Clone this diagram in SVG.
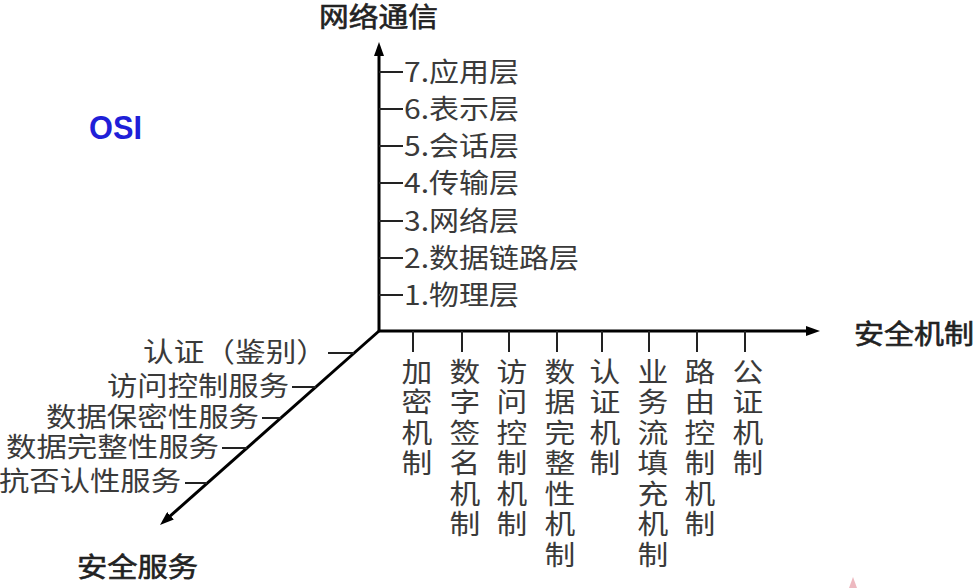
<svg xmlns="http://www.w3.org/2000/svg" width="978" height="588" viewBox="0 0 978 588">
<style>
.t{font-family:"Noto Sans CJK SC","Noto Sans",sans-serif;font-size:27px;fill:#3a3a3a}
.ax{font-family:"Noto Sans CJK SC","Noto Sans",sans-serif;font-size:27px;fill:#222;stroke:#222;stroke-width:0.6}
.v{font-family:"Noto Sans CJK SC","Noto Sans",sans-serif;font-size:27px;fill:#3a3a3a;text-anchor:middle}
.axis{stroke:#000;stroke-width:3;fill:none}
.tick{stroke:#222;stroke-width:2;fill:none}
</style>
<defs>
<marker id="arr" viewBox="0 0 14 10" refX="4" refY="5" markerWidth="14" markerHeight="10" orient="auto" markerUnits="userSpaceOnUse">
<path d="M0,0 L14,5 L0,10 z" fill="#000"/>
</marker>
</defs>
<rect width="978" height="588" fill="#fff"/>

<g id="connectors">
<line class="axis" x1="379" y1="332" x2="379" y2="52" marker-end="url(#arr)"/>
<line class="axis" x1="378" y1="331" x2="810" y2="331" marker-end="url(#arr)"/>
<line class="axis" x1="379" y1="331" x2="167.5" y2="518.4" marker-end="url(#arr)"/>
<g id="ticks-vertical">
<line class="tick" x1="379" y1="72" x2="403" y2="72"/>
<line class="tick" x1="379" y1="109" x2="403" y2="109"/>
<line class="tick" x1="379" y1="146" x2="403" y2="146"/>
<line class="tick" x1="379" y1="183" x2="403" y2="183"/>
<line class="tick" x1="379" y1="221" x2="403" y2="221"/>
<line class="tick" x1="379" y1="258" x2="403" y2="258"/>
<line class="tick" x1="379" y1="295" x2="403" y2="295"/>
</g>
<g id="ticks-horizontal">
<line class="tick" x1="413" y1="331" x2="413" y2="352"/>
<line class="tick" x1="462" y1="331" x2="462" y2="352"/>
<line class="tick" x1="509" y1="331" x2="509" y2="352"/>
<line class="tick" x1="557" y1="331" x2="557" y2="352"/>
<line class="tick" x1="602" y1="331" x2="602" y2="352"/>
<line class="tick" x1="649" y1="331" x2="649" y2="352"/>
<line class="tick" x1="697" y1="331" x2="697" y2="352"/>
<line class="tick" x1="745" y1="331" x2="745" y2="352"/>
</g>
<g id="ticks-diagonal">
<line class="tick" x1="328" y1="353" x2="354" y2="353"/>
<line class="tick" x1="292" y1="387" x2="316" y2="387"/>
<line class="tick" x1="262" y1="418" x2="281" y2="418"/>
<line class="tick" x1="222" y1="448" x2="247" y2="448"/>
<line class="tick" x1="185" y1="483" x2="207" y2="483"/>
</g>
</g>

<g id="axis-titles">
<text class="ax" x="319" y="27" textLength="119" lengthAdjust="spacingAndGlyphs">网络通信</text>
<text class="ax" x="854" y="344" textLength="120" lengthAdjust="spacingAndGlyphs">安全机制</text>
<text class="ax" x="77" y="577" textLength="121" lengthAdjust="spacingAndGlyphs">安全服务</text>
</g>

<g id="osi">
<text x="89" y="139" font-family="Liberation Sans, Arial, sans-serif" font-size="33" font-weight="bold" fill="#1f1fd8" textLength="53" lengthAdjust="spacingAndGlyphs">OSI</text>
</g>

<g id="layers">
<text class="t" x="404" y="82" textLength="115" lengthAdjust="spacingAndGlyphs">7.应用层</text>
<text class="t" x="404" y="119" textLength="115" lengthAdjust="spacingAndGlyphs">6.表示层</text>
<text class="t" x="404" y="156" textLength="115" lengthAdjust="spacingAndGlyphs">5.会话层</text>
<text class="t" x="404" y="193" textLength="115" lengthAdjust="spacingAndGlyphs">4.传输层</text>
<text class="t" x="404" y="231" textLength="115" lengthAdjust="spacingAndGlyphs">3.网络层</text>
<text class="t" x="404" y="268" textLength="175" lengthAdjust="spacingAndGlyphs">2.数据链路层</text>
<text class="t" x="404" y="305" textLength="115" lengthAdjust="spacingAndGlyphs">1.物理层</text>
</g>

<g id="services">
<text class="t" x="143" y="362" textLength="184" lengthAdjust="spacingAndGlyphs">认证（鉴别）</text>
<text class="t" x="107" y="396" textLength="182" lengthAdjust="spacingAndGlyphs">访问控制服务</text>
<text class="t" x="46" y="427" textLength="213" lengthAdjust="spacingAndGlyphs">数据保密性服务</text>
<text class="t" x="6" y="457" textLength="213" lengthAdjust="spacingAndGlyphs">数据完整性服务</text>
<text class="t" x="-1" y="491" textLength="182" lengthAdjust="spacingAndGlyphs">抗否认性服务</text>
</g>

<g id="mechanisms">
<g id="m1" transform="translate(417 0) scale(1.14 1)"><text class="v" x="0" y="382"><tspan x="0">加</tspan><tspan x="0" dy="30.5">密</tspan><tspan x="0" dy="30.5">机</tspan><tspan x="0" dy="30.5">制</tspan></text></g>
<g id="m2" transform="translate(465 0) scale(1.14 1)"><text class="v" x="0" y="382"><tspan x="0">数</tspan><tspan x="0" dy="30.5">字</tspan><tspan x="0" dy="30.5">签</tspan><tspan x="0" dy="30.5">名</tspan><tspan x="0" dy="30.5">机</tspan><tspan x="0" dy="30.5">制</tspan></text></g>
<g id="m3" transform="translate(512 0) scale(1.14 1)"><text class="v" x="0" y="382"><tspan x="0">访</tspan><tspan x="0" dy="30.5">问</tspan><tspan x="0" dy="30.5">控</tspan><tspan x="0" dy="30.5">制</tspan><tspan x="0" dy="30.5">机</tspan><tspan x="0" dy="30.5">制</tspan></text></g>
<g id="m4" transform="translate(560 0) scale(1.14 1)"><text class="v" x="0" y="382"><tspan x="0">数</tspan><tspan x="0" dy="30.5">据</tspan><tspan x="0" dy="30.5">完</tspan><tspan x="0" dy="30.5">整</tspan><tspan x="0" dy="30.5">性</tspan><tspan x="0" dy="30.5">机</tspan><tspan x="0" dy="30.5">制</tspan></text></g>
<g id="m5" transform="translate(605 0) scale(1.14 1)"><text class="v" x="0" y="382"><tspan x="0">认</tspan><tspan x="0" dy="30.5">证</tspan><tspan x="0" dy="30.5">机</tspan><tspan x="0" dy="30.5">制</tspan></text></g>
<g id="m6" transform="translate(653 0) scale(1.14 1)"><text class="v" x="0" y="382"><tspan x="0">业</tspan><tspan x="0" dy="30.5">务</tspan><tspan x="0" dy="30.5">流</tspan><tspan x="0" dy="30.5">填</tspan><tspan x="0" dy="30.5">充</tspan><tspan x="0" dy="30.5">机</tspan><tspan x="0" dy="30.5">制</tspan></text></g>
<g id="m7" transform="translate(700 0) scale(1.14 1)"><text class="v" x="0" y="382"><tspan x="0">路</tspan><tspan x="0" dy="30.5">由</tspan><tspan x="0" dy="30.5">控</tspan><tspan x="0" dy="30.5">制</tspan><tspan x="0" dy="30.5">机</tspan><tspan x="0" dy="30.5">制</tspan></text></g>
<g id="m8" transform="translate(748 0) scale(1.14 1)"><text class="v" x="0" y="382"><tspan x="0">公</tspan><tspan x="0" dy="30.5">证</tspan><tspan x="0" dy="30.5">机</tspan><tspan x="0" dy="30.5">制</tspan></text></g>
</g>

<polygon points="849,588 853,577 857,588" fill="#e9a8b0" opacity="0.8"/>
</svg>
